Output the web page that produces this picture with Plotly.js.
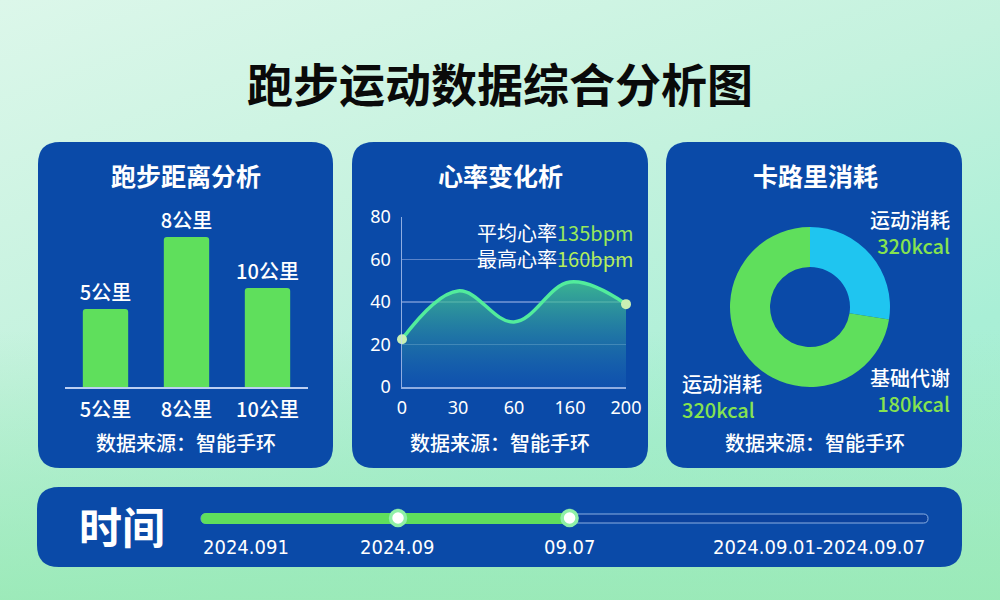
<!DOCTYPE html>
<html>
<head>
<meta charset="utf-8">
<script src="https://cdn.plot.ly/plotly-3.0.1.min.js"></script>
<style>
  html, body { margin: 0; padding: 0; }
  body {
    width: 1000px; height: 600px; overflow: hidden;
    background: linear-gradient(160deg, #dcf7ea 0%, #c4f2de 40%, #a9efd6 70%, #a8eed2 100%);
  }
  #bg2 {
    position: absolute; left: 0; top: 0; width: 1000px; height: 600px;
    background: linear-gradient(to top, rgba(150,232,175,0.75) 0%, rgba(150,232,175,0.0) 45%);
  }
  #chart { position: absolute; left: 0; top: 0; width: 1000px; height: 600px; }
</style>
</head>
<body>
<div id="bg2"></div>
<div id="chart"></div>
<script>
// ---- data ----
const distCats = ['5公里', '8公里', '10公里'];
const distBarHeights = [5.2, 10, 6.6];          // relative bar heights as drawn
const hrTickLabels = ['0', '30', '60', '160', '200'];
const hrValues = [22.5, 45.2, 30.6, 49.4, 39];
const hrYTicks = [0, 20, 40, 60, 80];
const calLabels = ['运动消耗', '基础代谢'];
const calShares = [27.5, 72.5];
const timeLabels = ['2024.091', '2024.09', '09.07', '2024.09.01-2024.09.07'];
const timeKnobs = [0.271, 0.507];

// ---- helpers ----
const W = 1000, H = 600;
const px = x => x / W;
const py = y => 1 - y / H;
const CJK = '"Noto Sans CJK SC", "Noto Sans", sans-serif';
const BLUE = '#0a4aa8';
const GREEN = '#5fdf5c';
const CYAN = '#1fc5f0';
const LGREEN = '#86e34f';

function roundRect(x0, y0, x1, y1, r) {
  const rx = r / W, ry = r / H;
  const X0 = px(x0), X1 = px(x1), Y0 = py(y0), Y1 = py(y1);
  return `M${X0 + rx},${Y0} L${X1 - rx},${Y0} Q${X1},${Y0} ${X1},${Y0 - ry} ` +
         `L${X1},${Y1 + ry} Q${X1},${Y1} ${X1 - rx},${Y1} L${X0 + rx},${Y1} ` +
         `Q${X0},${Y1} ${X0},${Y1 + ry} L${X0},${Y0 - ry} Q${X0},${Y0} ${X0 + rx},${Y0} Z`;
}

const panelShape = (x0, y0, x1, y1, r) => ({
  type: 'path', xref: 'paper', yref: 'paper', path: roundRect(x0, y0, x1, y1, r),
  fillcolor: BLUE, line: { width: 0 }, layer: 'below'
});

const traces = [
  {
    type: 'bar', x: distCats, y: distBarHeights, xaxis: 'x', yaxis: 'y',
    marker: { color: GREEN, cornerradius: 3 },
    text: distCats, textposition: 'outside', cliponaxis: false, constraintext: 'none',
    textfont: { family: CJK, size: 20, color: '#ffffff', weight: 500 },
    hoverinfo: 'skip'
  },
  {
    type: 'scatter', mode: 'lines', x: [0, 1, 2, 3, 4], y: hrValues, xaxis: 'x2', yaxis: 'y2',
    line: { color: '#52ec9c', width: 3.5, shape: 'spline', smoothing: 1.1 },
    fill: 'tozeroy',
    fillgradient: { type: 'vertical', colorscale: [[0, 'rgba(25,95,185,0.35)'], [1, 'rgba(70,205,140,0.8)']] },
    hoverinfo: 'skip'
  },
  {
    type: 'scatter', mode: 'markers', x: [0, 4], y: [hrValues[0], hrValues[4]], xaxis: 'x2', yaxis: 'y2',
    marker: { color: '#c9f0b4', size: 10 }, cliponaxis: false, hoverinfo: 'skip'
  },
  {
    type: 'pie', labels: calLabels, values: calShares, hole: 0.5, sort: false,
    direction: 'clockwise', rotation: 0, textinfo: 'none', hoverinfo: 'skip',
    marker: { colors: [CYAN, GREEN], line: { width: 0 } },
    domain: { x: [px(730), px(890)], y: [py(387), py(227)] }, showlegend: false
  },
  {
    type: 'scatter', mode: 'markers', x: timeKnobs, y: [0, 0], xaxis: 'x3', yaxis: 'y3',
    marker: { color: '#ffffff', size: 15, line: { color: '#8ff0a6', width: 3.5 } },
    cliponaxis: false, hoverinfo: 'skip'
  }
];

const ann = [];
const T = (text, x, y, size, opts = {}) => ann.push(Object.assign({
  text, x: px(x), y: py(y), xref: 'paper', yref: 'paper', showarrow: false,
  xanchor: 'center', yanchor: 'middle',
  font: { family: CJK, size, color: '#ffffff', weight: 500 }
}, opts));

T('<b>跑步运动数据综合分析图</b>', 500, 82, 46, { font: { family: CJK, size: 46, color: '#0a0a0a', weight: 900 } });
T('<b>跑步距离分析</b>', 186, 175, 25);
T('<b>心率变化析</b>', 500, 175, 25);
T('<b>卡路里消耗</b>', 815, 175, 25);
T('数据来源：智能手环', 186, 442, 20);
T('数据来源：智能手环', 500, 442, 20);
T('数据来源：智能手环', 815, 442, 20);
T('平均心率<span style="color:#98e85a">135bpm</span><br>最高心率<span style="color:#b4ee5a">160bpm</span>',
  636, 246, 20, { xanchor: 'right', align: 'right', font: { family: CJK, size: 20, color: '#ffffff' } });
T(`运动消耗<br><span style="color:${LGREEN}">320kcal</span>`, 952, 233, 20, { xanchor: 'right', align: 'right' });
T(`基础代谢<br><span style="color:${LGREEN}">180kcal</span>`, 952, 391, 20, { xanchor: 'right', align: 'right' });
T(`运动消耗<br><span style="color:${LGREEN}">320kcal</span>`, 680, 396, 20, { xanchor: 'left', align: 'left' });
T('<b>时间</b>', 122, 525, 43);
const NARROW = '"DejaVu Sans Condensed", "Liberation Sans Narrow", Roboto, sans-serif';
const tf = { family: NARROW, size: 20, color: '#ffffff' };
T(timeLabels[0], 201, 547, 20, { xanchor: 'left', font: tf });
T(timeLabels[1], 397, 547, 20, { font: tf });
T(timeLabels[2], 570, 547, 20, { font: tf });
T(timeLabels[3], 927, 547, 20, { xanchor: 'right', font: tf });

const shapes = [
  panelShape(38, 142, 333, 468, 22),
  panelShape(352, 142, 648, 468, 22),
  panelShape(666, 142, 962, 468, 22),
  panelShape(37, 487, 962, 567, 22),
  { type: 'path', xref: 'paper', yref: 'paper', path: roundRect(201, 514, 928, 523, 4.5),
    fillcolor: 'rgba(10,60,150,0.6)', line: { color: 'rgba(170,200,240,0.8)', width: 1 }, layer: 'below' },
  { type: 'path', xref: 'paper', yref: 'paper', path: roundRect(201, 513, 569, 524, 5.5),
    fillcolor: GREEN, line: { width: 0 }, layer: 'below' }
];

const layout = {
  width: W, height: H, margin: { l: 0, r: 0, t: 0, b: 0 },
  paper_bgcolor: 'rgba(0,0,0,0)', plot_bgcolor: 'rgba(0,0,0,0)',
  showlegend: false, bargap: 0.44,
  font: { family: CJK, color: '#ffffff' },
  xaxis: {
    domain: [px(65), px(308)], type: 'category', range: [-0.5, 2.5], fixedrange: true,
    showline: true, linecolor: 'rgba(220,230,255,0.85)', linewidth: 1.5,
    showgrid: false, zeroline: false, ticks: '',
    tickfont: { family: CJK, size: 20, color: '#ffffff', weight: 500 }, ticklabelstandoff: 4
  },
  yaxis: { domain: [py(387), py(207)], range: [0, 12], visible: false, fixedrange: true },
  xaxis2: {
    domain: [px(402), px(626)], range: [0, 4], anchor: 'y2',
    tickvals: [0, 1, 2, 3, 4], ticktext: hrTickLabels,
    showline: true, linecolor: 'rgba(200,215,250,0.7)', linewidth: 1.5,
    showgrid: false, zeroline: false, ticks: '',
    tickfont: { family: 'Noto Sans, sans-serif', size: 18, color: '#ffffff' }, ticklabelstandoff: 4
  },
  yaxis2: {
    domain: [py(387), py(217)], range: [0, 80], anchor: 'x2',
    tickvals: hrYTicks, showline: true, linecolor: 'rgba(200,215,250,0.7)', linewidth: 1.5,
    showgrid: true, gridcolor: 'rgba(190,205,245,0.45)', gridwidth: 1.2, zeroline: false, ticks: '',
    tickfont: { family: 'Noto Sans, sans-serif', size: 18, color: '#ffffff' }, ticklabelstandoff: 6
  },
  xaxis3: { domain: [px(201), px(928)], range: [0, 1], anchor: 'y3', visible: false, fixedrange: true },
  yaxis3: { domain: [py(528), py(508)], range: [-1, 1], anchor: 'x3', visible: false, fixedrange: true },
  shapes, annotations: ann
};

Plotly.newPlot('chart', traces, layout, { staticPlot: true, displayModeBar: false });
</script>
</body>
</html>
